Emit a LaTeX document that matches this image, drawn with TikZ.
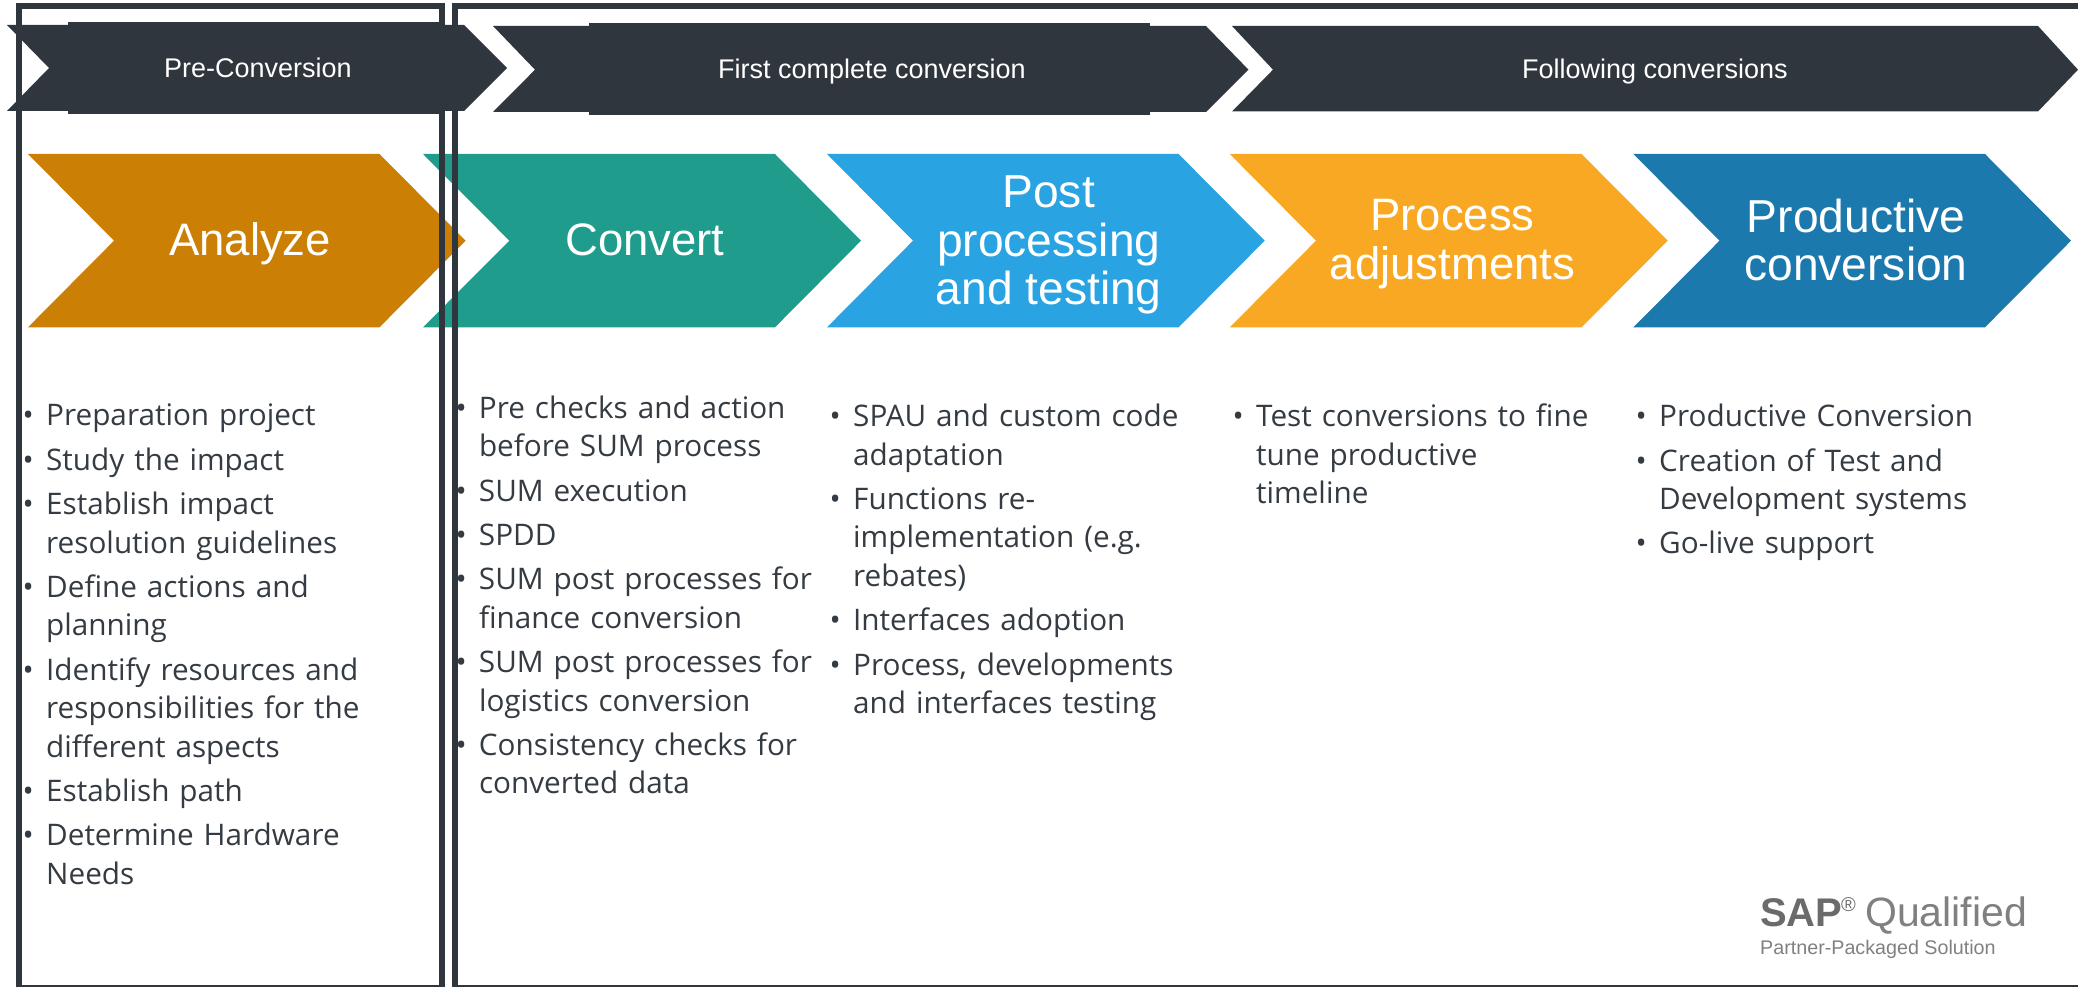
\documentclass[tikz,border=0pt]{standalone}
\usepackage{fontspec}
\setmainfont{Open Sans}
\newfontfamily\headfont{Liberation Sans}
\definecolor{ink}{HTML}{2F363D}
\definecolor{txt}{HTML}{343B42}
\definecolor{cAnalyze}{HTML}{CC7F05}
\definecolor{cConvert}{HTML}{209C8C}
\definecolor{cPost}{HTML}{29A3E1}
\definecolor{cAdjust}{HTML}{F8A823}
\definecolor{cProd}{HTML}{1B79AD}
\definecolor{logo}{HTML}{6B6B6B}
\definecolor{logolight}{HTML}{808080}
\newcommand\bitem[1]{\hangindent=18.5pt\hangafter=1\noindent\hbox to 18.5pt{\kern-5pt\textbullet\hss}#1\par}
\newcommand\nl{\hfil\break}
\newcommand\chevron[5]{%
  \fill[#1] (#2,154) -- (#4,154) -- (#5,240.7) -- (#4,327.3) -- (#2,327.3) -- (#3,240.7) -- cycle;}
\tikzset{
  x=1pt,y=-1pt,
  band/.style={fill=ink},
  frame/.style={draw=ink,line width=6.5pt},
  toplabel/.style={font=\headfont\fontsize{27}{30}\selectfont,text=white,anchor=base,inner sep=0pt},
  phase/.style={font=\headfont\fontsize{45.5}{49}\selectfont,text=white,align=center,inner sep=0pt},
  phasewide/.style={phase,font=\headfont\fontsize{46.2}{48.6}\selectfont},
  tasks/.style={anchor=north west,inner sep=0pt,text=txt,text width=420pt,
    font=\fontsize{29.7}{38.4}\selectfont\setlength{\parskip}{6pt}\setlength{\parindent}{0pt}},
  logotext/.style={anchor=base west,inner sep=0pt},
}
\begin{document}
\begin{tikzpicture}
\clip (0,0) rectangle (2078,987);
% top bands
\fill[band] (7,25) -- (464,25) -- (507,68) -- (464,111) -- (7,111) -- (49,68) -- cycle;
\fill[band] (68,22) rectangle (442,114);
\fill[band] (493,26) -- (1206,26) -- (1248.5,69.7) -- (1206,112) -- (493,112) -- (535,69.7) -- cycle;
\fill[band] (589,23) rectangle (1150,115);
\fill[band] (1232,26) -- (2038,26) -- (2078,69.7) -- (2038,111.5) -- (1232,111.5) -- (1273,69.7) -- cycle;
% phase chevrons
\chevron{cConvert}{423}{509.4}{775}{861}
\chevron{cAnalyze}{28}{114}{379.5}{465.6}
\chevron{cPost}{827}{913}{1178.6}{1264.7}
\chevron{cAdjust}{1229.8}{1316}{1581.6}{1667.7}
\chevron{cProd}{1633.4}{1719.5}{1985}{2071}
% frames
\draw[frame] (19.2,6) rectangle (442,988);
\draw[frame] (455,6) rectangle (2090,988);
% band labels
\node[toplabel] (lpre) at (258,78) {Pre-Conversion};
\node[toplabel] (lfirst) at (872,78.7) {First complete conversion};
\node[toplabel] (lfollow) at (1655,78.7) {Following conversions};
% phase labels
\node[phase] (analyze) at (250,244) {Analyze};
\node[phase] (convert) at (645,240) {Convert};
\node[phasewide] (post) at (1048.7,245.3) {Post\\processing\\and testing};
\node[phase] (adjust) at (1452.5,244) {Process\\adjustments};
\node[phasewide] (prod) at (1856,240) {Productive\\conversion};
% task lists
\node[tasks] (t1) at (27.5,404) {\bitem{Preparation project}\bitem{Study the impact}\bitem{Establish impact\nl resolution guidelines}\bitem{Define actions and\nl planning}\bitem{Identify resources and\nl responsibilities for the\nl different aspects}\bitem{Establish path}\bitem{Determine Hardware\nl Needs}};
\node[tasks] (t2) at (460.3,395.5) {\bitem{Pre checks and action\nl before SUM process}\bitem{SUM execution}\bitem{SPDD}\bitem{SUM post processes for\nl finance conversion}\bitem{SUM post processes for\nl logistics conversion}\bitem{Consistency checks for\nl converted data}};
\node[tasks] (t3) at (834.5,404) {\bitem{SPAU and custom code\nl adaptation}\bitem{Functions re-\nl implementation (e.g.\nl rebates)}\bitem{Interfaces adoption}\bitem{Process, developments\nl and interfaces testing}};
\node[tasks] (t4) at (1237.5,404) {\bitem{Test conversions to fine\nl tune productive\nl timeline}};
\node[tasks] (t5) at (1640.5,404) {\bitem{Productive Conversion}\bitem{Creation of Test and\nl Development systems}\bitem{Go-live support}};
% logo
\node[logotext,text=logo,font=\headfont\bfseries\fontsize{40}{50}\selectfont] (sap) at (1760,926) {SAP};
\node[logotext,text=logo,font=\headfont\fontsize{20}{20}\selectfont] (reg) at (1841,911) {®};
\node[logotext,text=logolight,font=\headfont\fontsize{41}{50}\selectfont] (qual) at (1865,926) {Qualified};
\node[logotext,text=logolight,font=\headfont\fontsize{19.7}{24}\selectfont] (pps) at (1760,954) {Partner-Packaged Solution};
\end{tikzpicture}
\end{document}
